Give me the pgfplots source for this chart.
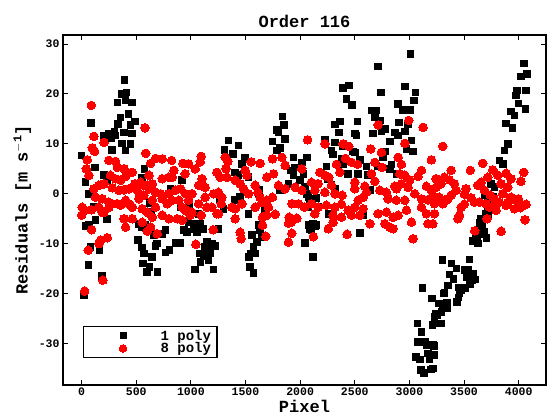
\documentclass[border=0pt]{standalone}
\usepackage{pgfplots}
\pgfplotsset{compat=1.18}
\usepackage{fontspec}
\setmainfont{Liberation Mono}
\pgfplotsset{myleg/.style={legend image code/.code={\path (0pt,-4pt) (70pt,4pt); \draw[mark repeat=2,mark phase=2,##1] plot coordinates {(0pt,0pt)(35pt,0pt)(70pt,0pt)};}}}
\begin{document}
\begin{tikzpicture}[x=1pt,y=1pt]
\path[use as bounding box] (0,0) rectangle (548,414);
\begin{axis}[
  at={(63pt,29pt)}, anchor=south west,
  width=483pt, height=350pt, scale only axis,
  xmin=-170, xmax=4250, ymin=-38.3, ymax=31.8,
  xtick={0,500,...,4000}, ytick={-30,-20,...,30},
  tick align=inside, major tick length=5pt,
  every tick/.style={black, line width=0.9pt},
  axis line style={line width=1.3pt},
  /pgf/number format/assume math mode=true,
  /pgf/number format/1000 sep={},
  ticklabel style={font=\bfseries\fontsize{11.5}{12}\selectfont},
  xticklabel style={inner sep=1pt, yshift=-2pt},
  title={\bfseries\fontsize{17}{17}\selectfont Order 116},
  title style={at={(axis description cs:0.5,1.023)}, anchor=center},
  xlabel={\bfseries\fontsize{17}{17}\selectfont Pixel},
  xlabel style={at={(axis description cs:0.5,-0.062)}, anchor=center, inner sep=0pt},
  ylabel={\bfseries\fontsize{17}{17}\selectfont Residuals [m s$^{\mathbf{-1}}$]},
  ylabel style={at={(axis description cs:-0.084,0.5)}, anchor=center, rotate=0},
  legend style={at={(axis description cs:0.041,0.076)}, anchor=south west,
    draw=black, line width=1.2pt, font=\bfseries\fontsize{14}{14}\selectfont,
    inner xsep=4pt, inner ysep=1.5pt, row sep=-3pt},
  legend cell align=left,
]
\addplot[only marks, mark=square*, mark size=3.3pt, black, mark options={line width=0pt},
  myleg, legend image post style={mark size=3pt}] coordinates {
(0,7.7)(22,-20.3)(37,2.3)(37,-6.5)(64,-14.3)(67,0)(67,-6.3)(83,-10.7)(86,14.2)(116,-2.7)(122,5.3)(128,-5.3)(165,-11.3)(189,-16.5)(205,11.7)(205,3.8)(232,-5)(235,2.7)(250,12.1)(272,11.2)(281,8.8)(302,12.5)(311,11.7)(330,18.3)(336,14)(357,15.3)(372,20)(372,10.1)(387,12.3)(394,22.8)(403,18.8)(403,8.7)(412,20.3)(430,16)(448,13.8)(448,10)(464,18.3)(464,12.1)(488,14.5)(519,-9.3)(525,-6)(553,-10.8)(555,3.2)(555,-6.7)(562,-14)(570,-12)(577,5)(586,-6.3)(601,-15.7)(622,-1.9)(622,-14.7)(640,-3.7)(645,-12.7)(662,-8.3)(675,-10.5)(689,-10)(693,-15.7)(738,-8)(768,-11.8)(769,-7.3)(805,-11.3)(814,1)(830,0.7)(865,-9.8)(905,-9.8)(906,-2.7)(920,2.7)(936,-7.3)(964,-7.7)(979,-5.7)(985,-2.7)(1025,-6)(1040,-7)(1040,-15.2)(1055,-7.7)(1071,-4)(1071,-6.3)(1086,-6)(1086,-12)(1090,-13.7)(1101,-7.1)(1120,-12.5)(1116,-7)(1131,-10.7)(1147,-9.7)(1147,-11.7)(1162,-13.3)(1162,-10.7)(1177,-12)(1193,-10)(1208,-15.2)(1223,-10.5)(1253,-7)(1269,-1.3)(1299,-3)(1308,8.8)(1345,10.7)(1385,8)(1405,4.3)(1405,-1.3)(1436,9.7)(1436,3.7)(1451,-0.7)(1467,6)(1497,7.2)(1528,-4.1)(1528,3.3)(1534,-12.7)(1543,-14.7)(1552,-12)(1558,-8.3)(1573,-10.7)(1573,-15.9)(1589,-12)(1604,-9.7)(1619,0)(1619,-6.2)(1628,0.8)(1634,-7.3)(1650,-8.7)(1674,-3)(1747,10.5)(1787,12.8)(1787,8.7)(1802,12.3)(1818,9.2)(1818,0.7)(1840,15.5)(1854,13.8)(1863,11)(1894,2)(1918,4.7)(1940,7.3)(1940,3.7)(1955,5.3)(2000,2.7)(2016,6.3)(2031,4)(2046,1.3)(2046,-9.9)(2065,7.3)(2062,0)(2077,-0.7)(2077,-2.7)(2077,-6.3)(2089,-1)(2092,-7)(2104,-7.3)(2117,-12.7)(2119,-6)(2138,-6.5)(2149,-0.8)(2149,-6.3)(2165,-2.7)(2226,10.8)(2241,5.5)(2256,3)(2258,-4.1)(2287,8.7)(2287,1.7)(2302,7.9)(2318,13.9)(2318,10.3)(2318,1)(2357,12.3)(2363,14.5)(2378,7)(2394,21.2)(2394,9.5)(2394,6)(2424,19)(2439,3.9)(2449,21.7)(2476,17.8)(2485,8.5)(2500,12.1)(2500,8.3)(2516,11.7)(2525,14.5)(2531,3.9)(2546,6.8)(2549,-7.9)(2565,-4.3)(2577,-4.3)(2607,5.5)(2622,3.7)(2638,0.7)(2653,16.7)(2668,12.1)(2683,15.3)(2699,16.7)(2714,25.5)(2714,5.5)(2729,14.7)(2738,20.3)(2744,12.5)(2760,7.3)(2775,13)(2781,8.5)(2820,10.5)(2820,5)(2836,5.9)(2866,12.3)(2881,4)(2897,18)(2897,11.7)(2903,14.3)(2943,16.8)(2958,21.5)(2958,12.5)(2973,9)(2989,14)(3003,16.8)(3010,28)(3018,10.7)(3034,8.5)(3043,18.7)(3055,20.3)(3063,-32.7)(3073,-26)(3081,-29.7)(3098,-33.2)(3104,-35.3)(3111,-27.7)(3121,-18.9)(3135,-35.9)(3144,-29.7)(3157,-30.4)(3172,-32)(3183,-33.2)(3196,-35.2)(3207,-21)(3210,-26.3)(3214,-30.3)(3214,-35)(3220,-32.4)(3226,-30.5)(3229,-24.7)(3229,-32.3)(3244,-24)(3251,-24.3)(3266,-22)(3275,-22)(3281,-26)(3290,-26)(3293,-23.7)(3303,-13.3)(3305,-23)(3311,-20)(3320,-19.9)(3342,-23)(3343,-21.8)(3354,-18.4)(3366,-16.2)(3385,-14)(3404,-17.1)(3430,-15)(3434,-21.7)(3449,-18.8)(3449,-20.8)(3458,-19.9)(3474,-19.3)(3488,-18.8)(3510,-15.3)(3510,-19)(3525,-16.7)(3534,-15.2)(3550,-13.2)(3554,-18.2)(3571,-17.4)(3580,-16)(3584,-9.4)(3604,-17.2)(3611,-8.3)(3617,-9.5)(3626,-10)(3638,-8)(3644,-5.8)(3656,-5)(3663,-6.7)(3687,-0.3)(3687,-7.7)(3702,-4)(3705,-8.9)(3717,-1)(3717,-2.7)(3723,-4.1)(3748,2)(3763,-0.7)(3778,1.3)(3824,6.7)(3854,6)(3870,8.7)(3885,14.1)(3900,10)(3930,16.5)(3945,13.2)(3961,15.7)(3976,19.7)(3985,20.7)(3997,18.1)(4022,23.5)(4046,26.1)(4061,17)(4067,20.7)(4077,24)
};
\addlegendentry{1 poly}
\addplot[only marks, mark=*, mark size=4.3pt, red, mark options={draw=red, fill=red, line width=0pt},
  myleg, legend image post style={mark size=3.8pt}] coordinates {
(0,-4.3)(6,-2.7)(28,-19.5)(31,-3.3)(43,5)(52,6.8)(61,-11.3)(67,3.7)(89,17.7)(92,-3.2)(92,-7.2)(98,9.2)(113,11.5)(113,1)(119,8.5)(128,-0.7)(159,1.7)(159,-2.7)(159,-10)(174,-9.3)(189,-1)(189,-3.7)(195,-17.3)(205,10.3)(205,2)(205,-3.7)(235,-8.8)(250,6.7)(250,-1.7)(250,-2.7)(265,3.7)(281,1.2)(281,-2)(311,6.5)(311,3)(327,5.3)(327,-2)(342,0.7)(357,2.7)(357,-2.3)(388,5)(388,0.8)(388,-5)(403,3.5)(403,-1.3)(403,-6.7)(433,1)(433,-2)(448,-2.3)(464,4.3)(464,-2.7)(464,-5)(488,2)(509,0.7)(525,-1)(540,2.3)(555,-3)(555,-5.7)(570,1.7)(570,-0.3)(580,13.2)(587,8.1)(601,1.7)(601,-3.7)(601,-7.5)(616,1)(617,3.7)(632,6.1)(632,-6.7)(647,2)(647,-1.3)(647,-4.7)(677,7.1)(677,0.3)(677,-2.7)(693,-8)(723,0)(738,7)(738,3)(738,-1)(738,-4.3)(784,-2)(799,3.3)(799,0)(799,-5)(824,6.7)(830,3.3)(830,-1.3)(845,4.7)(860,0.7)(875,-5)(891,-1.3)(906,1)(921,-2.7)(921,-5.3)(928,6.1)(948,4)(948,-3.3)(952,0)(964,-3.3)(979,6)(979,-1.3)(994,-4.3)(1010,0)(1010,-3.7)(1040,5)(1046,-10.1)(1071,1.7)(1071,-2)(1086,6.4)(1095,7.5)(1095,-4.3)(1101,3)(1131,1.3)(1131,-0.7)(1147,-2.7)(1193,-2.7)(1205,-7.2)(1208,0)(1238,4.3)(1238,-4)(1253,0.3)(1253,-4)(1269,3.3)(1278,-2)(1284,-0.7)(1315,7.3)(1321,5)(1330,3.3)(1339,6.5)(1375,-2.7)(1406,2.7)(1406,-3)(1406,-5)(1451,2)(1451,-7.7)(1461,-9)(1467,-2)(1482,1)(1497,4.7)(1513,3.7)(1528,0)(1552,6.4)(1589,1.7)(1589,-2.7)(1613,0.3)(1634,6.1)(1634,-0.7)(1650,-1.7)(1656,-4.7)(1656,-6.3)(1686,-8.5)(1695,3.3)(1695,-1.3)(1695,-4.3)(1711,-2.7)(1747,7)(1747,-0.7)(1757,4)(1772,-4.1)(1802,1.7)(1833,7.3)(1863,5.7)(1863,1)(1894,-9.7)(1894,-5.9)(1900,-4.7)(1918,-5.7)(1924,-2)(1924,-7.9)(1955,1.3)(1970,-4.9)(1985,-2)(2015,5)(2016,0.7)(2040,-2.7)(2068,10.8)(2104,2.3)(2104,-2)(2121,-8.6)(2134,0.7)(2134,-4)(2165,2)(2165,-2.7)(2180,4.3)(2226,10)(2226,3.7)(2226,0.3)(2241,-2.3)(2258,-7)(2263,3.3)(2287,1.7)(2302,-4.3)(2302,-5.7)(2318,0)(2318,-2.7)(2333,5.9)(2363,4.3)(2378,-2.1)(2378,-4.7)(2385,-0.3)(2394,10)(2415,7.1)(2430,-8.1)(2439,-3.3)(2445,9.5)(2470,6.3)(2470,-4.3)(2500,2.3)(2500,1)(2500,-2.7)(2525,5.9)(2531,-1.3)(2546,-4.3)(2577,-0.7)(2577,-3)(2592,1.5)(2607,0.3)(2638,-6)(2646,9)(2653,4)(2683,6.3)(2683,2.5)(2714,13.8)(2714,-4)(2729,0.7)(2744,8.3)(2750,5.3)(2775,-6)(2790,0.3)(2790,-3.7)(2805,-1)(2820,-6.7)(2851,-4.7)(2851,-7)(2866,1.5)(2881,1)(2881,-1.3)(2897,7.3)(2897,-4.3)(2912,4)(2927,5.9)(2927,2)(2958,10.1)(2958,3.7)(2958,-1.3)(2973,-3.3)(2988,1.3)(2994,14.7)(3003,2.8)(3019,-5.7)(3034,-9)(3049,0)(3079,3.5)(3110,4.7)(3110,-1)(3110,-2.7)(3125,13.3)(3156,1.5)(3156,-4)(3171,-1.2)(3171,-6)(3201,6.8)(3201,0.7)(3214,-0.3)(3214,-6)(3229,-2)(3229,-4)(3244,3)(3244,1.3)(3275,-0.7)(3290,2)(3305,9.5)(3305,-2)(3320,3.3)(3336,-1.3)(3351,-1)(3366,2.8)(3381,4.7)(3381,-0.3)(3412,2)(3427,0.7)(3443,-5)(3458,-4.3)(3473,-2.7)(3503,-0.1)(3503,-2.1)(3518,1)(3558,4.7)(3564,-0.8)(3595,-1.7)(3598,-7.4)(3625,1.7)(3641,-1.7)(3656,2.3)(3671,6.1)(3687,0.7)(3702,-2)(3711,-5)(3717,3.3)(3733,-2.7)(3741,-0.3)(3763,4.8)(3778,-1)(3793,-2.3)(3793,-3.3)(3808,3.7)(3824,-1.7)(3839,2)(3839,-7.5)(3854,0)(3885,4.1)(3885,-2.3)(3900,1.3)(3900,-1.7)(3930,3)(3930,-0.7)(3961,-3)(3976,-1.3)(3997,-1)(4016,-2.8)(4021,2.5)(4046,4.3)(4058,-5.2)(4058,-2.2)(4067,-2.1)
};
\addlegendentry{8 poly}
\end{axis}
\end{tikzpicture}
\end{document}
